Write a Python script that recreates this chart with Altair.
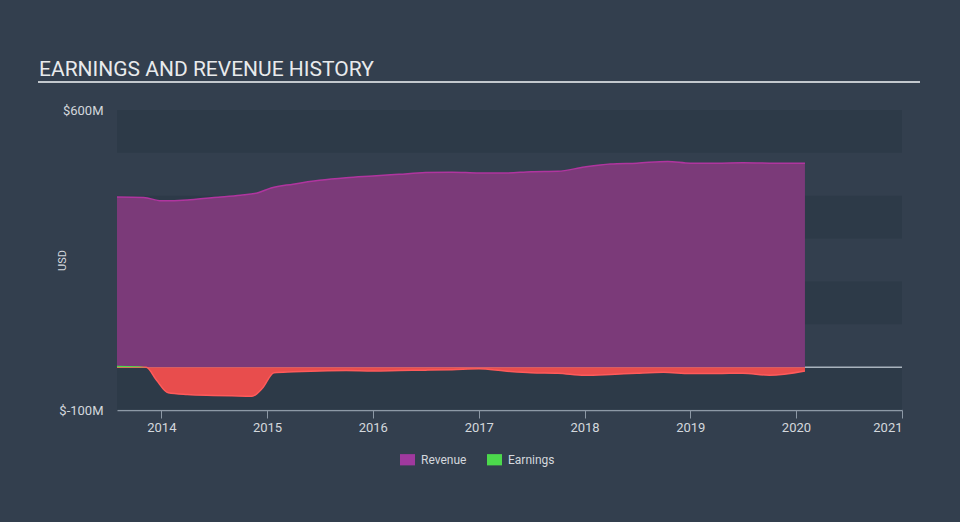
import altair as alt
import pandas as pd

# ---- data ----
rev_dates = ["2013-08-01", "2013-11-01", "2014-01-01", "2014-04-01", "2014-07-01",
             "2014-10-01", "2014-12-01", "2015-01-15", "2015-04-01", "2015-07-01",
             "2015-10-01", "2016-01-01", "2016-04-01", "2016-07-01", "2016-10-01",
             "2017-01-01", "2017-04-01", "2017-07-01", "2017-10-01", "2018-01-01",
             "2018-04-01", "2018-07-01", "2018-10-15", "2019-01-01", "2019-04-01",
             "2019-07-01", "2019-10-01", "2020-02-01"]
revenue = [397, 396, 388, 390, 396, 401, 407, 418, 427, 436, 442, 446, 450, 454, 455,
           453, 453, 456, 457, 467, 474, 476, 480, 476, 476, 477, 476, 476]

earn_dates = ["2013-08-01", "2013-10-15", "2013-11-10", "2013-12-15", "2014-01-25",
              "2014-04-01", "2014-07-01", "2014-09-01", "2014-11-10", "2014-12-15",
              "2015-01-25", "2015-04-01", "2015-07-01", "2015-10-01", "2016-01-01",
              "2016-04-01", "2016-07-01", "2016-10-01", "2017-01-01", "2017-04-01",
              "2017-07-01", "2017-10-01", "2018-01-01", "2018-04-01", "2018-07-01",
              "2018-10-01", "2019-01-01", "2019-04-01", "2019-07-01", "2019-10-01",
              "2020-02-01"]
earnings = [3, 2, 0, -30, -60, -64, -66, -67, -68, -50, -13, -11, -9, -8, -9, -8, -7,
            -6, -4, -9, -13, -14, -19, -17, -14, -12, -15, -15, -14, -19, -9]

series_names = ["Revenue", "Earnings"]
series_colors = ["#a0399e", "#4cd94c"]
y_ticks = [-100, 600]
bands_lo = [500, 300, 100, -100]
bands_hi = [600, 400, 200, 0]
title_text = "EARNINGS AND REVENUE HISTORY"

rev_df = pd.DataFrame({"date": rev_dates, "value": revenue})
earn_df = pd.DataFrame({"date": earn_dates, "value": earnings})
band_df = pd.DataFrame({"lo": bands_lo, "hi": bands_hi})
legend_df = pd.DataFrame({"series": series_names})

W, H = 785, 300
BG = "#333f4e"
TXT = "#d3d8dd"

x_scale = alt.Scale(domain=[alt.DateTime(year=2013, month=8, date=1),
                            alt.DateTime(year=2021, month=1, date=1)])
y_scale = alt.Scale(domain=[-100, 600], nice=False, zero=False)

x_enc = alt.X("date:T", scale=x_scale,
              axis=alt.Axis(title=None, format="%Y", tickCount="year", grid=False,
                            domainColor="#8d99a6", tickColor="#8d99a6", tickSize=8,
                            labelColor=TXT, labelFontSize=13, labelFont="Roboto",
                            labelPadding=3, labelFlush=True, domainWidth=1.5))
y_axis = alt.Axis(title="USD", values=y_ticks, grid=False, domain=False, ticks=False,
                  labelExpr="'$' + datum.value + 'M'", labelColor=TXT,
                  labelFontSize=13, labelFont="Roboto", labelPadding=14,
                  titleColor=TXT, titleFontSize=11, titleFont="Roboto",
                  titleFontWeight="normal", titleX=-55, titleY=150,
                  titleBaseline="middle", titleAngle=-90)

bands = alt.Chart(band_df).mark_rect(color="#2c3947", opacity=0.75).encode(
    x=alt.value(0), x2=alt.value(W),
    y=alt.Y("lo:Q", scale=y_scale, axis=y_axis), y2="hi:Q")

zero = alt.Chart(pd.DataFrame({"z": [0]})).mark_rule(
    color="#a9b3bd", strokeWidth=1.5).encode(
    y=alt.Y("z:Q", scale=y_scale), x=alt.value(0), x2=alt.value(W))

rev_area = alt.Chart(rev_df).mark_area(
    color="#7b3a79", opacity=1, interpolate="monotone",
    line={"color": "#b0359f", "strokeWidth": 1.5}).encode(
    x=x_enc, y=alt.Y("value:Q", scale=y_scale), y2=alt.datum(0))

earn_neg = alt.Chart(earn_df).transform_calculate(
    neg="min(datum.value, 0)").mark_area(
    color="#e84d4d", opacity=1, interpolate="monotone",
    line={"color": "#ff5a5a", "strokeWidth": 1.5}).encode(
    x="date:T", y=alt.Y("neg:Q", scale=y_scale), y2=alt.datum(0))

earn_pos = alt.Chart(earn_df).transform_calculate(
    pos="max(datum.value, 0)").mark_area(
    color="#4cd94c", opacity=1, interpolate="monotone").encode(
    x="date:T", y=alt.Y("pos:Q", scale=y_scale), y2=alt.datum(0))

legend_layer = alt.Chart(legend_df).mark_square(filled=True, opacity=0).encode(
    color=alt.Color("series:N",
                    scale=alt.Scale(domain=series_names, range=series_colors),
                    sort=series_names,
                    legend=alt.Legend(title=None, orient="none", legendX=283,
                                      legendY=342, direction="horizontal",
                                      symbolType="M-1,-0.75H1V0.75H-1Z",
                                      symbolSize=225, symbolOpacity=1,
                                      symbolStrokeWidth=0,
                                      labelColor=TXT, labelFontSize=12,
                                      labelFont="Roboto", labelOffset=6,
                                      columnPadding=20)),
    x=alt.value(-500), y=alt.value(-500))

title = alt.Chart(pd.DataFrame({"t": [title_text]})).mark_text(
    align="left", baseline="alphabetic", font="Roboto", fontSize=21,
    color="#e8eaec").encode(text="t:N", x=alt.value(-78), y=alt.value(-34))

underline = alt.Chart(pd.DataFrame({"u": [0]})).mark_rule(
    color="#c3c8cd", strokeWidth=2).encode(
    x=alt.value(-79), x2=alt.value(803), y=alt.value(-28))

chart = alt.layer(bands, zero, rev_area, earn_neg, earn_pos, legend_layer,
                  title, underline).properties(
    width=W, height=H,
    background=BG,
    padding={"left": 117, "top": 110, "right": 58, "bottom": 112},
    autosize=alt.AutoSizeParams(type="none"),
).configure_view(stroke=None)

chart.save("out.html", embed_options={"renderer": "svg", "actions": False})
